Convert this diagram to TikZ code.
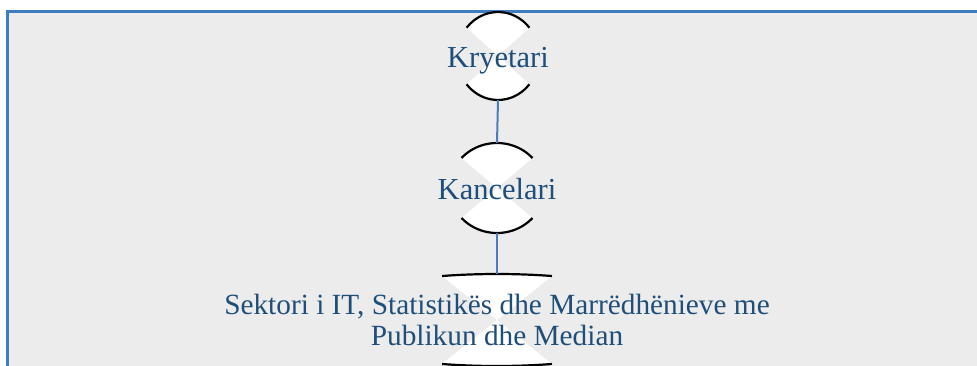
\documentclass[tikz,border=0pt]{standalone}
\usepackage{fontspec}
\setmainfont{Liberation Serif}
\usetikzlibrary{positioning,backgrounds}
\definecolor{txtblue}{HTML}{1F4E79}
\definecolor{linkblue}{HTML}{4A7EBB}
\definecolor{frameblue}{HTML}{3F7DC3}
\definecolor{panel}{HTML}{ECECEC}
\tikzset{
  un/.style={rectangle, inner sep=0, text=txtblue, font=\fontsize{30.5}{31}\selectfont, align=center},
  one/.style={text height=22pt, text depth=0pt},
  ln/.style={draw=linkblue, line width=2pt},
  arcs/.style={draw=black, line width=2.2pt},
  frame/.style={draw=frameblue, line width=3pt, fill=panel}
}
\newcommand{\glass}[4]{%
  \fill[white] (#1.center) -- ++(180-#4:#2pt and #3pt) arc[start angle=180-#4, end angle=#4, x radius=#2pt, y radius=#3pt]
    -- (#1.center) -- ++(-#4:#2pt and #3pt) arc[start angle=-#4, end angle=-180+#4, x radius=#2pt, y radius=#3pt] -- cycle;
  \draw[arcs] (#1.center) ++(180-#4:#2pt and #3pt) arc[start angle=180-#4, end angle=#4, x radius=#2pt, y radius=#3pt];
  \draw[arcs] (#1.center) ++(-#4:#2pt and #3pt) arc[start angle=-#4, end angle=-180+#4, x radius=#2pt, y radius=#3pt];
}

\begin{document}
\begin{tikzpicture}[x=1pt, y=-1pt]
	\useasboundingbox (0,0) rectangle (977,365);
	\node[un, one, minimum width=82pt, minimum height=88pt] (kryetari) at (498,56) {Kryetari};
	\node[un, one, minimum width=95pt, minimum height=90pt] (kancelari) at (497,188) {Kancelari};
	\node[un, font=\fontsize{29.3}{31}\selectfont, minimum width=110pt, minimum height=92pt] (sektori) at (497,320) {Sektori i IT, Statistikës dhe Marrëdhënieve me\\Publikun dhe Median};
	\draw[ln] (kryetari.south) -- (kancelari.north);
	\draw[ln] (kancelari.south) -- (sektori.north);
	\begin{scope}[on background layer]
	\draw[frame] (7,11) rectangle (995,385);
	\glass{kryetari}{41}{44}{40}
	\glass{kancelari}{47.6}{45}{41.8}
	\glass{sektori}{188}{46}{73}
	\end{scope}
\end{tikzpicture}
\end{document}
